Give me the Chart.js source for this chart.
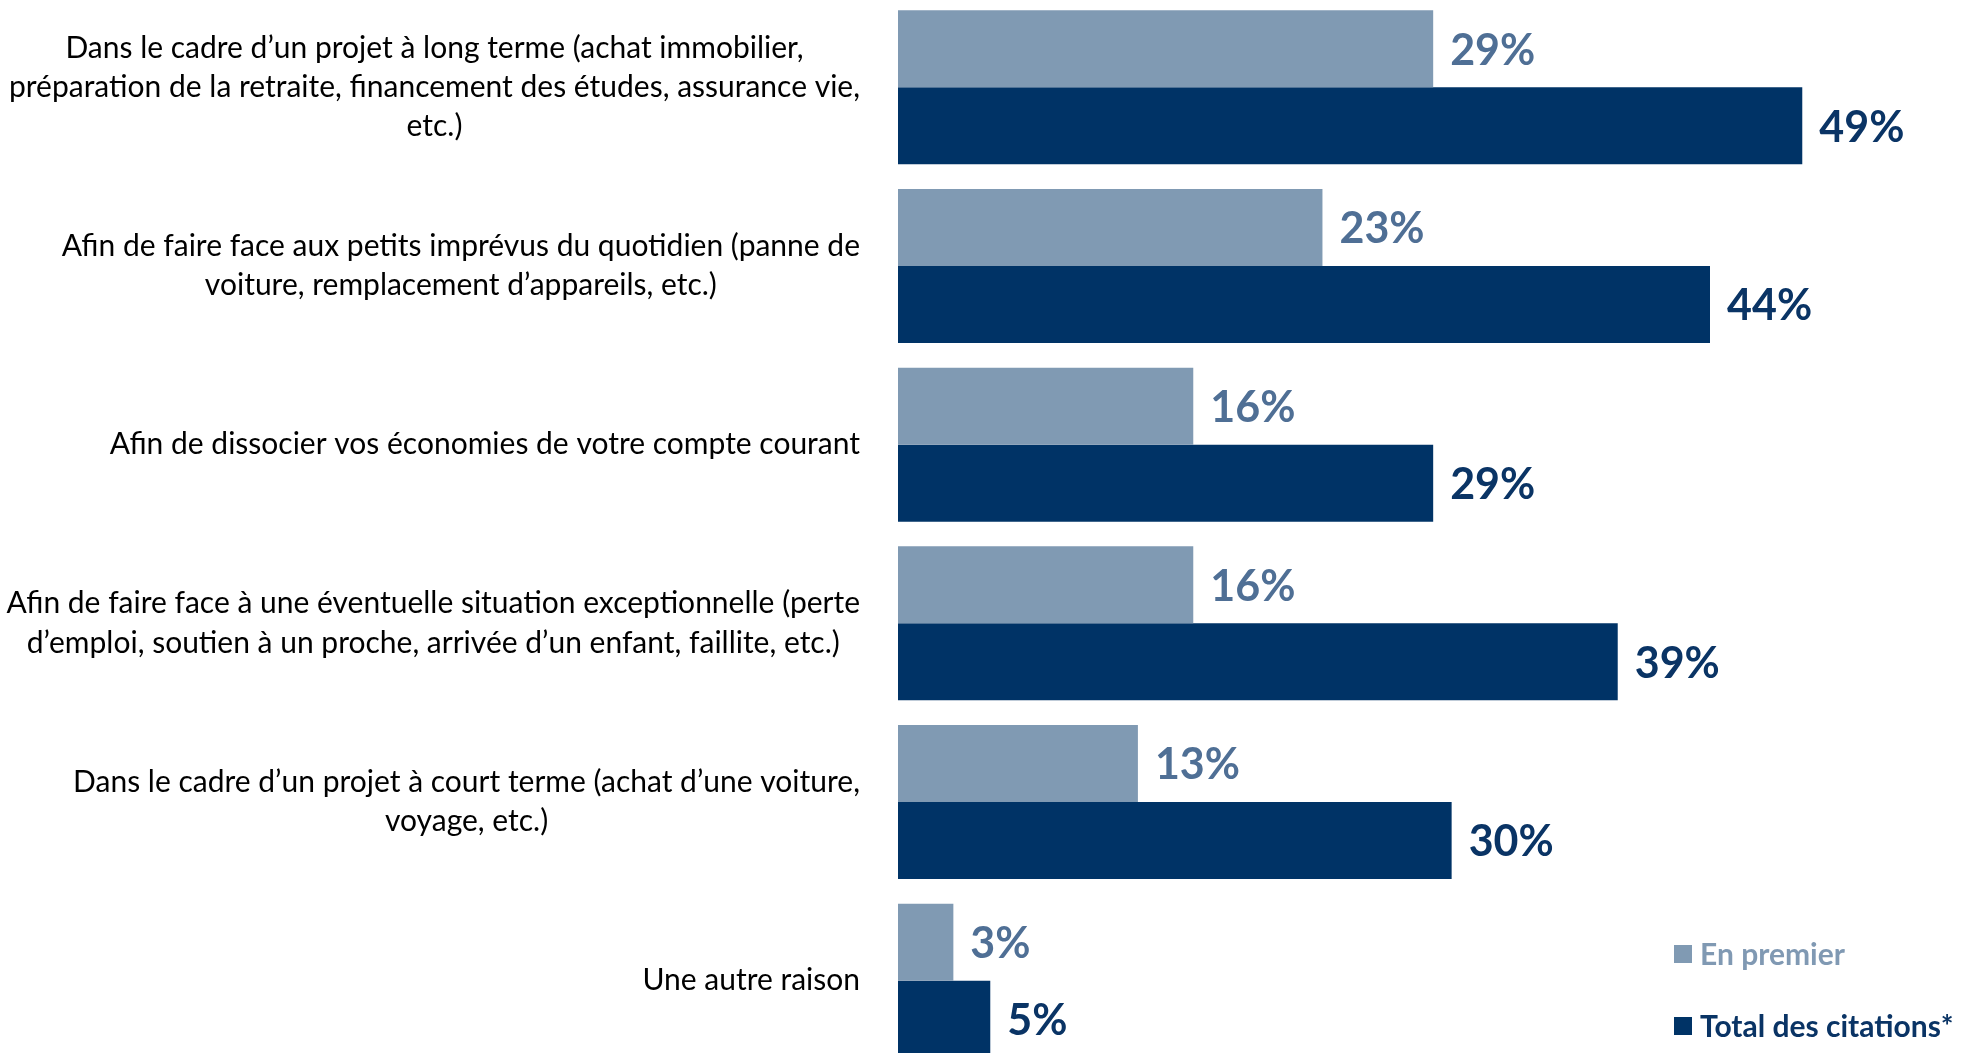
<!DOCTYPE html>
<html lang="fr">
<head>
<meta charset="utf-8">
<title>Raisons d'épargne</title>
<script src="https://cdn.jsdelivr.net/npm/chart.js@4.4.1/dist/chart.umd.min.js"></script>
<style>
  html, body { margin: 0; padding: 0; background: #ffffff; overflow: hidden; }
  #wrap { position: absolute; left: 0; top: -2px; width: 1961px; height: 1072px; }
</style>
</head>
<body>
<div id="wrap"><canvas id="chart"></canvas></div>
<script>
// Category labels (one entry per line of each label)
const categories = [
  ["Dans le cadre d’un projet à long terme (achat immobilier,",
   "préparation de la retraite, financement des études, assurance vie,",
   "etc.)"],
  ["Afin de faire face aux petits imprévus du quotidien (panne de",
   "voiture, remplacement d’appareils, etc.)"],
  ["Afin de dissocier vos économies de votre compte courant"],
  ["Afin de faire face à une éventuelle situation exceptionnelle (perte",
   "d’emploi, soutien à un proche, arrivée d’un enfant, faillite, etc.)"],
  ["Dans le cadre d’un projet à court terme (achat d’une voiture,",
   "voyage, etc.)"],
  ["Une autre raison"]
];

// Series values, in percent
const enPremier = [29, 23, 16, 16, 13, 3];
const totalCitations = [49, 44, 29, 39, 30, 5];

const seriesNames = ["En premier", "Total des citations*"];

const COLORS = {
  light: "#809ab3",
  dark: "#003366",
  lightValue: "#4f6f95",
  darkValue: "#0a3465",
  lightLegend: "#8099b3",
  darkLegend: "#0a3465",
  label: "#000000"
};

const FONT_FAMILY = "Lato, 'Open Sans', sans-serif";

// Draws the multi-line category labels: each block right-aligned against the bars,
// with its lines centred inside the block.
const categoryLabels = {
  id: "categoryLabels",
  afterDraw(chart) {
    const ctx = chart.ctx;
    const yScale = chart.scales.y;
    const right = chart.chartArea.left - 38;
    const lineH = 39.4;
    ctx.save();
    ctx.font = "30px " + FONT_FAMILY;
    ctx.fillStyle = COLORS.label;
    ctx.textAlign = "center";
    ctx.textBaseline = "middle";
    chart.data.labels.forEach((lines, i) => {
      const cy = yScale.getPixelForValue(i);
      const w = Math.max(...lines.map(l => ctx.measureText(l).width));
      const cx = right - w / 2;
      const top = cy - (lines.length - 1) * lineH / 2;
      lines.forEach((l, k) => ctx.fillText(l, cx, top + k * lineH));
    });
    ctx.restore();
  }
};

// Value labels to the right of each bar
const valueLabels = {
  id: "valueLabels",
  afterDatasetsDraw(chart) {
    const ctx = chart.ctx;
    ctx.save();
    ctx.font = "bold 43px " + FONT_FAMILY;
    ctx.textAlign = "left";
    ctx.textBaseline = "middle";
    chart.data.datasets.forEach((ds, di) => {
      const meta = chart.getDatasetMeta(di);
      ctx.fillStyle = ds.valueColor;
      meta.data.forEach((bar, i) => {
        ctx.fillText(ds.data[i] + "%", bar.x + 17, bar.y + 2);
      });
    });
    ctx.restore();
  }
};

// Legend in the lower right corner, coloured text per series
const cornerLegend = {
  id: "cornerLegend",
  afterDraw(chart) {
    const ctx = chart.ctx;
    const x = chart.width - 287;
    const rows = [chart.height - 116, chart.height - 44];
    ctx.save();
    ctx.font = "bold 30px " + FONT_FAMILY;
    ctx.textAlign = "left";
    ctx.textBaseline = "middle";
    chart.data.datasets.forEach((ds, di) => {
      const y = rows[di];
      ctx.fillStyle = ds.backgroundColor;
      ctx.fillRect(x, y - 9, 18, 18);
      ctx.fillStyle = ds.legendColor;
      ctx.fillText(ds.label, x + 26, y + 1);
    });
    ctx.restore();
  }
};

new Chart(document.getElementById("chart"), {
  type: "bar",
  data: {
    labels: categories,
    datasets: [
      {
        label: seriesNames[0],
        data: enPremier,
        backgroundColor: COLORS.light,
        valueColor: COLORS.lightValue,
        legendColor: COLORS.lightLegend,
        borderWidth: 0
      },
      {
        label: seriesNames[1],
        data: totalCitations,
        backgroundColor: COLORS.dark,
        valueColor: COLORS.darkValue,
        legendColor: COLORS.darkLegend,
        borderWidth: 0
      }
    ]
  },
  options: {
    indexAxis: "y",
    responsive: true,
    maintainAspectRatio: false,
    animation: false,
    layout: { padding: { left: 898, right: 48, top: 0, bottom: 0 } },
    datasets: {
      bar: { categoryPercentage: 0.8615, barPercentage: 1.0 }
    },
    scales: {
      x: { display: false, min: 0, max: 55 },
      y: { display: false, offset: true, grid: { display: false } }
    },
    plugins: {
      legend: { display: false },
      tooltip: { enabled: false }
    }
  },
  plugins: [categoryLabels, valueLabels, cornerLegend]
});
</script>
</body>
</html>
